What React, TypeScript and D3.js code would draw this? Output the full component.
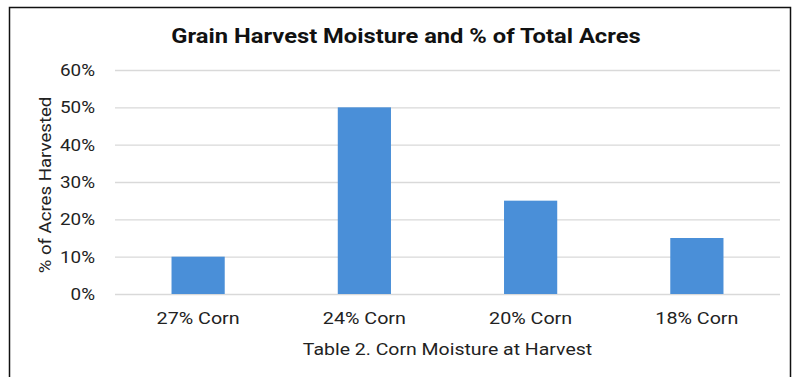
import { useEffect, useMemo, useRef } from "react";
import * as d3 from "d3";

const WIDTH = 800;
const HEIGHT = 377;
const MARGIN = { top: 70, right: 20, bottom: 83, left: 115 };

const categories = ["27% Corn", "24% Corn", "20% Corn", "18% Corn"];
const acresShare = [0.1, 0.5, 0.25, 0.15];
const yTicks = [0, 0.1, 0.2, 0.3, 0.4, 0.5, 0.6];

const TITLE = "Grain Harvest Moisture and % of Total Acres";
const X_TITLE = "Table 2. Corn Moisture at Harvest";
const Y_TITLE = "% of Acres Harvested";

const BAR_COLOR = "#4a8fd8";
const GRID_COLOR = "#d9d9d9";
const FONT = "Roboto, 'Noto Sans', sans-serif";
// the source font runs wider than Roboto, so text gets stretched along its baseline
const STRETCH = 1.13;

const App = () => {
  const axesRef = useRef<SVGGElement>(null);
  const boundsWidth = WIDTH - MARGIN.left - MARGIN.right;
  const boundsHeight = HEIGHT - MARGIN.top - MARGIN.bottom;

  const xScale = useMemo(
    () => d3.scaleBand().domain(categories).range([0, boundsWidth]).paddingInner(0.68).paddingOuter(0.34),
    [boundsWidth]
  );
  const yScale = useMemo(
    () => d3.scaleLinear().domain([0, 0.6]).range([boundsHeight, 0]),
    [boundsHeight]
  );

  // axes + gridlines drawn by d3
  useEffect(() => {
    const g = d3.select(axesRef.current);
    g.selectAll("*").remove();

    const yAxis = d3
      .axisLeft(yScale)
      .tickValues(yTicks)
      .tickFormat(d3.format(".0%"))
      .tickSize(-boundsWidth)
      .tickPadding(20);
    const yg = g.append("g").call(yAxis);
    yg.select(".domain").remove();
    yg.selectAll(".tick line").attr("stroke", GRID_COLOR).attr("stroke-width", 1.3);
    yg.selectAll(".tick text")
      .attr("fill", "#222")
      .attr("font-size", 17)
      .attr("font-family", FONT)
      .attr("x", -20 / 1.11)
      .attr("transform", "scale(1.11,1)");

    const xAxis = d3.axisBottom(xScale).tickSize(0).tickPadding(18);
    const xg = g.append("g").attr("transform", `translate(0,${boundsHeight})`).call(xAxis);
    xg.select(".domain").remove();
    xg.selectAll(".tick text")
      .attr("fill", "#222")
      .attr("font-size", 17)
      .attr("font-family", FONT)
      .attr("transform", "scale(1.16,1)");
  }, [xScale, yScale, boundsWidth, boundsHeight]);

  const bars = categories.map((c, i) => (
    <rect
      key={c}
      x={xScale(c) ?? 0}
      width={xScale.bandwidth()}
      y={yScale(acresShare[i])}
      height={boundsHeight - yScale(acresShare[i])}
      fill={BAR_COLOR}
    />
  ));

  return (
    <svg
      width={WIDTH}
      height={HEIGHT}
      style={{ position: "absolute", left: 0, top: 0, background: "#fff", display: "block" }}
    >
      <rect x={9.5} y={7.5} width={781} height={HEIGHT} fill="#fff" stroke="#111" strokeWidth={1.5} />
      <text
        transform={`translate(406,43) scale(${STRETCH},1)`}
        textAnchor="middle"
        fontFamily={FONT}
        fontWeight="bold"
        fontSize={21}
        fill="#111"
      >
        {TITLE}
      </text>
      <g transform={`translate(${MARGIN.left},${MARGIN.top})`}>
        <g ref={axesRef} />
        {bars}
      </g>
      <text
        transform={`translate(${MARGIN.left + boundsWidth / 2},355) scale(1.145,1)`}
        textAnchor="middle"
        fontFamily={FONT}
        fontSize={17}
        fill="#222"
      >
        {X_TITLE}
      </text>
      <text
        transform={`translate(51,${MARGIN.top + boundsHeight / 2 + 3}) rotate(-90) scale(1.095,1)`}
        textAnchor="middle"
        fontFamily={FONT}
        fontSize={17}
        fill="#222"
      >
        {Y_TITLE}
      </text>
    </svg>
  );
};

export default App;
